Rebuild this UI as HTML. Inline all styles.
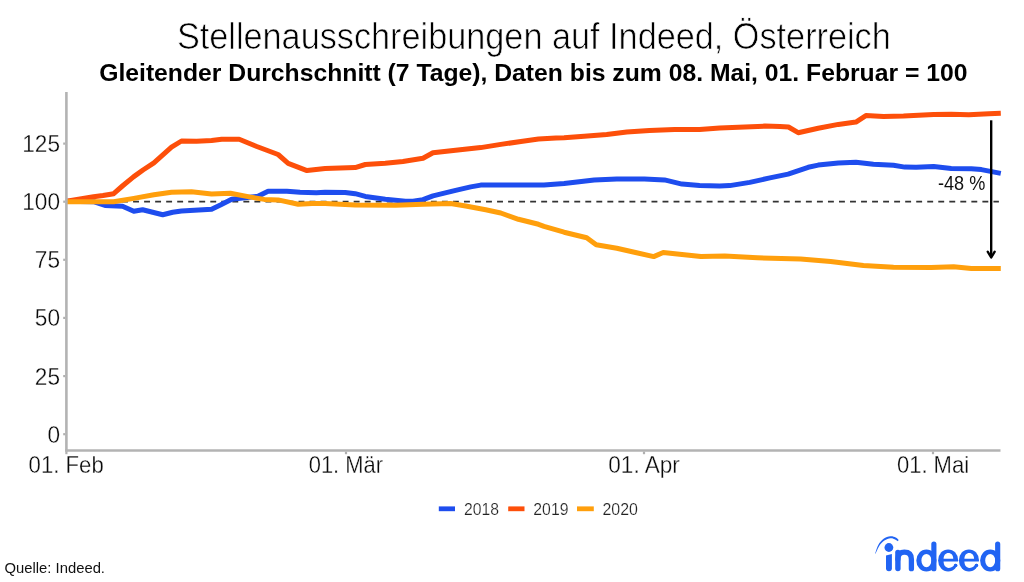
<!DOCTYPE html>
<html lang="de">
<head>
<meta charset="utf-8">
<title>Stellenausschreibungen auf Indeed, Österreich</title>
<style>
html,body{margin:0;padding:0;background:#fff;}
body{width:1024px;height:582px;overflow:hidden;font-family:"Liberation Sans",sans-serif;}
svg{display:block;font-family:"Liberation Sans",sans-serif;will-change:transform;}
.curve{fill:none;stroke-width:5.0;stroke-linejoin:round;stroke-linecap:butt;}
</style>
</head>
<body>
<svg width="1024" height="582" viewBox="0 0 1024 582">
<rect width="1024" height="582" fill="#ffffff"/>
<!-- titles -->
<text x="176.9" y="49.2" font-size="36.4" fill="#000" stroke="#fff" stroke-width="0.7" textLength="713.9" lengthAdjust="spacingAndGlyphs">Stellenausschreibungen auf Indeed, Österreich</text>
<text x="99.2" y="81.0" font-size="23.5" font-weight="bold" fill="#000" textLength="868.3" lengthAdjust="spacingAndGlyphs">Gleitender Durchschnitt (7 Tage), Daten bis zum 08. Mai, 01. Februar = 100</text>
<!-- dashed reference line -->
<line x1="66.9" x2="998.9" y1="201.7" y2="201.7" stroke="#333" stroke-width="1.7" stroke-dasharray="5.9 5.13"/>
<!-- data -->
<polyline class="curve" stroke="#1E4DEE" points="66.5,201.3 93.6,201.7 105.0,205.5 122.5,206.2 133.8,211.2 142.6,209.7 162.7,214.7 172.7,212.2 181.5,211.0 211.6,209.2 220.4,205.0 231.7,199.2 258.0,196.2 268.1,191.2 286.9,191.2 300.0,192.2 316.3,192.7 325.1,192.2 345.2,192.4 355.2,193.7 365.3,196.4 385.3,199.2 405.4,201.2 413.0,201.2 423.0,199.7 433.0,195.9 455.6,190.4 470.7,186.9 480.7,185.1 500.8,184.9 528.4,185.1 544.0,184.9 564.1,183.4 594.2,180.1 616.8,179.1 644.4,179.1 664.5,179.9 682.0,184.1 699.6,185.4 719.7,185.9 729.7,185.6 749.8,182.4 769.9,177.9 788.1,174.1 808.2,167.3 818.2,165.1 838.3,163.0 855.9,162.3 873.4,164.3 893.5,165.3 904.8,167.1 916.1,167.3 933.7,166.6 951.2,168.6 971.3,168.8 981.4,169.6 1000.8,173.4"/>
<polyline class="curve" stroke="#FD4F0A" points="66.5,201.3 80.0,199.0 93.6,196.7 103.0,195.5 113.7,193.7 123.0,185.5 133.8,176.6 143.0,170.0 153.9,162.8 171.5,147.2 181.5,141.0 196.6,141.2 211.6,140.5 221.7,139.2 239.2,139.2 256.8,146.5 278.1,154.5 288.2,163.3 307.0,170.6 325.1,168.6 355.2,167.6 365.3,164.5 385.3,163.3 402.9,161.5 423.0,158.3 433.0,152.7 455.6,150.2 480.7,147.6 500.8,144.4 520.9,141.5 538.5,139.1 556.0,138.0 564.1,137.8 584.2,136.3 606.7,134.5 626.8,132.1 649.4,130.5 674.5,129.4 699.6,129.5 719.7,127.9 744.8,127.1 764.9,126.1 779.9,126.4 788.5,127.0 798.2,132.7 818.2,128.2 838.3,124.4 855.9,122.1 865.9,115.6 883.5,116.4 903.5,116.1 933.7,114.6 951.2,114.3 968.8,114.8 988.9,113.8 1000.8,113.3"/>
<polyline class="curve" stroke="#FF9F0C" points="66.5,201.7 113.7,201.7 133.8,198.4 153.9,194.7 171.5,192.2 191.5,191.7 211.6,193.9 230.4,193.2 249.3,196.9 264.3,199.4 278.1,199.9 298.2,204.2 312.0,203.5 325.1,203.5 355.2,205.0 395.4,205.2 423.0,204.2 450.6,203.5 465.7,206.0 485.7,209.7 500.8,213.0 518.4,219.3 538.5,224.3 544.0,226.4 564.1,232.2 586.7,237.7 596.2,244.8 616.8,248.3 634.4,252.3 653.7,256.6 663.2,252.5 682.0,254.5 700.9,256.6 724.7,256.1 757.4,257.8 800.6,259.1 830.7,261.6 863.4,265.6 893.5,267.3 931.1,267.6 953.7,266.8 971.3,268.4 1000.8,268.6"/>
<!-- axes -->
<g stroke="#b3b3b3" stroke-width="2.6" fill="none">
<line x1="66.4" x2="66.4" y1="92" y2="451.7"/>
<line x1="65.2" x2="1000.5" y1="450.5" y2="450.5"/>
</g>
<g stroke="#b0b0b0" stroke-width="2.2"><line x1="63.2" x2="65.2" y1="434.2" y2="434.2"/><line x1="63.2" x2="65.2" y1="376.1" y2="376.1"/><line x1="63.2" x2="65.2" y1="317.9" y2="317.9"/><line x1="63.2" x2="65.2" y1="259.8" y2="259.8"/><line x1="63.2" x2="65.2" y1="201.7" y2="201.7"/><line x1="63.2" x2="65.2" y1="143.6" y2="143.6"/><line x1="66.4" x2="66.4" y1="451.6" y2="454.2"/><line x1="346" x2="346" y1="451.6" y2="454.2"/><line x1="644" x2="644" y1="451.6" y2="454.2"/><line x1="933" x2="933" y1="451.6" y2="454.2"/></g>
<g font-size="23.6" fill="#0a0a0a" stroke="#fff" stroke-width="0.32"><text x="60.0" y="442.7" text-anchor="end" textLength="12.6" lengthAdjust="spacingAndGlyphs">0</text><text x="60.0" y="384.6" text-anchor="end" textLength="25.2" lengthAdjust="spacingAndGlyphs">25</text><text x="60.0" y="326.4" text-anchor="end" textLength="25.2" lengthAdjust="spacingAndGlyphs">50</text><text x="60.0" y="268.3" text-anchor="end" textLength="25.2" lengthAdjust="spacingAndGlyphs">75</text><text x="60.0" y="210.2" text-anchor="end" textLength="37.8" lengthAdjust="spacingAndGlyphs">100</text><text x="60.0" y="152.1" text-anchor="end" textLength="37.8" lengthAdjust="spacingAndGlyphs">125</text><text x="66.2" y="473.3" text-anchor="middle" textLength="75.2" lengthAdjust="spacingAndGlyphs">01. Feb</text><text x="345.9" y="473.3" text-anchor="middle" textLength="74.4" lengthAdjust="spacingAndGlyphs">01. Mär</text><text x="644.1" y="473.3" text-anchor="middle" textLength="71.6" lengthAdjust="spacingAndGlyphs">01. Apr</text><text x="933" y="473.3" text-anchor="middle" textLength="72.2" lengthAdjust="spacingAndGlyphs">01. Mai</text></g>
<!-- annotation -->
<g stroke="#000" stroke-width="2.35" fill="none" stroke-linecap="butt" stroke-linejoin="miter">
<line x1="991.2" x2="991.2" y1="120.3" y2="257.3"/>
<polyline points="987.7,251.7 991.2,257.5 994.7,251.7" stroke-linecap="round" stroke-linejoin="round"/>
</g>
<text x="938.0" y="189.9" font-size="19.4" fill="#111" textLength="47.3" lengthAdjust="spacingAndGlyphs">-48 %</text>
<!-- legend -->
<g stroke-width="4.8">
<line x1="438.8" x2="455" y1="508.8" y2="508.8" stroke="#1E4DEE"/>
<line x1="508.2" x2="524.5" y1="508.8" y2="508.8" stroke="#FD4F0A"/>
<line x1="577" x2="593.8" y1="508.8" y2="508.8" stroke="#FF9F0C"/>
</g>
<g font-size="16.8" fill="#222" stroke="#fff" stroke-width="0.22">
<text x="464.0" y="515" textLength="35.0" lengthAdjust="spacingAndGlyphs">2018</text>
<text x="533.3" y="515" textLength="35.2" lengthAdjust="spacingAndGlyphs">2019</text>
<text x="602.5" y="515" textLength="35.5" lengthAdjust="spacingAndGlyphs">2020</text>
</g>
<!-- source -->
<text x="4.5" y="573.3" font-size="15" fill="#111" textLength="100.5" lengthAdjust="spacingAndGlyphs">Quelle: Indeed.</text>
<!-- indeed logo -->
<g fill="#2164f3" stroke="none"><path d="M875.10,553.70 C875.63,552.23 876.88,547.38 878.30,544.90 C879.72,542.42 881.58,540.25 883.60,538.80 C885.62,537.35 888.38,536.43 890.40,536.20 C892.42,535.97 894.32,536.78 895.70,537.40 C897.08,538.02 898.20,539.48 898.70,539.90 L897.70,541.20 C897.18,540.87 895.82,539.70 894.60,539.20 C893.38,538.70 892.10,537.98 890.40,538.20 C888.70,538.42 886.22,539.27 884.40,540.50 C882.58,541.73 880.93,543.47 879.50,545.60 C878.07,547.73 876.42,552.02 875.80,553.30 Z"/><circle cx="888.9" cy="547.5" r="4.4"/><path d="M886.0,555.4 L891.9,554.1 V568.35 A2.95,2.95 0 0 1 886.0,568.35 Z"/><rect x="895.2" y="549.8" width="5.4" height="21.5" rx="2.7"/><path d="M897.9,559 C897.9,554.3 900.5,552.1 904.4,552.1 C909,552.1 911.4,554.6 911.4,559.2 V568.65" fill="none" stroke="#2164f3" stroke-width="5.3" stroke-linecap="round"/><g transform="translate(0,0)"><path fill-rule="evenodd" d="M916.3,560.5 A10.1,11 0 1 0 936.5,560.5 A10.1,11 0 1 0 916.3,560.5 Z M921.4,560.55 A5,6.65 0 1 1 931.4,560.55 A5,6.65 0 1 1 921.4,560.55 Z"/><rect x="931.3" y="541.5" width="5.15" height="29.8" rx="2.6"/></g><g transform="translate(0,0)"><ellipse cx="948.15" cy="560.4" rx="10.05" ry="11.0"/><path fill="#fff" d="M943.6,558.85 C943.6,555.5 945.5,553.1 948.4,553.1 C951.3,553.1 953.25,555.5 953.25,558.85 Z"/><path fill="#fff" d="M943.6,561.6 H959.5 V565.6 H957.4 A1.75,1.75 0 0 0 953.9,565.6 C952.6,567.2 950.6,567.9 948.6,567.9 C945.6,567.9 943.6,565.4 943.6,561.6 Z"/><circle cx="955.65" cy="565.6" r="1.75"/></g><g transform="translate(20.8,0)"><ellipse cx="948.15" cy="560.4" rx="10.05" ry="11.0"/><path fill="#fff" d="M943.6,558.85 C943.6,555.5 945.5,553.1 948.4,553.1 C951.3,553.1 953.25,555.5 953.25,558.85 Z"/><path fill="#fff" d="M943.6,561.6 H959.5 V565.6 H957.4 A1.75,1.75 0 0 0 953.9,565.6 C952.6,567.2 950.6,567.9 948.6,567.9 C945.6,567.9 943.6,565.4 943.6,561.6 Z"/><circle cx="955.65" cy="565.6" r="1.75"/></g><g transform="translate(63.8,0)"><path fill-rule="evenodd" d="M916.3,560.5 A10.1,11 0 1 0 936.5,560.5 A10.1,11 0 1 0 916.3,560.5 Z M921.4,560.55 A5,6.65 0 1 1 931.4,560.55 A5,6.65 0 1 1 921.4,560.55 Z"/><rect x="931.3" y="541.5" width="5.15" height="29.8" rx="2.6"/></g></g>
</svg>
</body>
</html>
